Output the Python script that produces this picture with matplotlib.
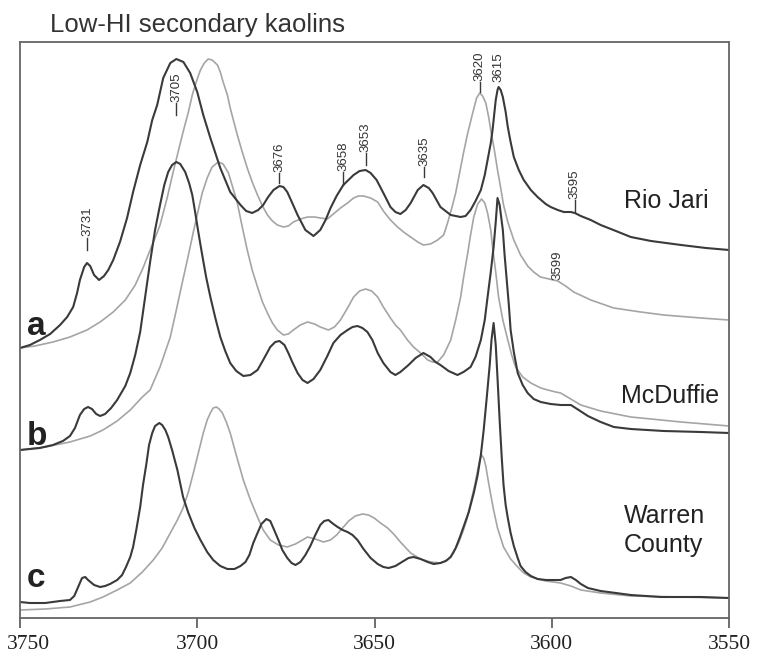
import matplotlib
matplotlib.use("Agg")
import matplotlib.pyplot as plt
from matplotlib.transforms import ScaledTranslation

# OH-stretching region spectra (absorbance, arbitrary offset units)

# a - Rio Jari
wn_a_dark = [3750.0, 3747.2, 3744.4, 3741.5, 3738.7, 3736.7, 3735.0, 3733.9, 3733.1, 3731.9,
             3731.1, 3730.2, 3729.1, 3727.7, 3726.3, 3725.1, 3723.7, 3721.8, 3719.8, 3718.1,
             3716.1, 3714.1, 3712.7, 3711.3, 3709.6, 3707.6, 3705.9, 3703.9, 3702.0, 3700.0,
             3698.3, 3696.3, 3693.5, 3690.7, 3687.8, 3686.2, 3684.5, 3682.8, 3681.4, 3680.0,
             3678.5, 3676.8, 3675.7, 3674.6, 3673.2, 3671.7, 3669.5, 3667.2, 3665.3, 3663.8,
             3662.4, 3660.7, 3658.8, 3655.9, 3654.2, 3652.5, 3651.1, 3649.4, 3647.5, 3645.5,
             3644.1, 3642.7, 3641.2, 3639.8, 3637.8, 3636.2, 3634.7, 3633.6, 3631.4, 3628.5,
             3625.7, 3624.3, 3622.9, 3621.5, 3620.0, 3618.9, 3618.1, 3617.2, 3616.7, 3615.8,
             3615.3, 3615.0, 3614.4, 3613.8, 3613.0, 3612.4, 3611.6, 3610.7, 3609.3, 3607.9,
             3605.9, 3604.0, 3601.7, 3600.3, 3598.3, 3596.6, 3594.6, 3593.5, 3591.8, 3589.0,
             3586.2, 3581.9, 3577.7, 3572.0, 3563.5, 3556.5, 3550.0]
ab_a_dark = [2.70, 2.73, 2.78, 2.84, 2.93, 3.01, 3.11, 3.25, 3.38, 3.51,
             3.55, 3.52, 3.43, 3.38, 3.42, 3.48, 3.58, 3.76, 4.00, 4.26,
             4.53, 4.76, 4.98, 5.13, 5.40, 5.55, 5.59, 5.56, 5.45, 5.26,
             5.03, 4.80, 4.50, 4.26, 4.13, 4.07, 4.05, 4.08, 4.13, 4.21,
             4.28, 4.32, 4.31, 4.26, 4.15, 4.03, 3.88, 3.82, 3.88, 3.98,
             4.10, 4.22, 4.33, 4.43, 4.47, 4.48, 4.45, 4.38, 4.25, 4.11,
             4.06, 4.04, 4.08, 4.15, 4.28, 4.33, 4.30, 4.25, 4.11, 4.03,
             4.01, 4.02, 4.08, 4.17, 4.28, 4.43, 4.58, 4.75, 4.88, 5.18,
             5.28, 5.31, 5.28, 5.21, 5.06, 4.91, 4.76, 4.61, 4.48, 4.38,
             4.28, 4.21, 4.14, 4.11, 4.08, 4.06, 4.06, 4.05, 4.02, 3.98,
             3.93, 3.87, 3.81, 3.77, 3.73, 3.70, 3.68]

wn_a_light = [3750.0, 3745.8, 3740.7, 3735.9, 3731.1, 3727.4, 3723.7, 3720.3, 3717.5, 3715.3,
              3713.3, 3711.9, 3710.5, 3708.5, 3706.8, 3705.4, 3704.0, 3702.5, 3701.4, 3700.3,
              3699.1, 3698.0, 3696.9, 3695.8, 3694.3, 3693.5, 3692.7, 3691.5, 3690.7, 3688.7,
              3687.3, 3685.9, 3684.5, 3683.0, 3681.6, 3680.2, 3678.8, 3677.4, 3675.7, 3674.3,
              3672.9, 3670.9, 3668.9, 3666.9, 3665.3, 3663.3, 3661.6, 3659.6, 3657.6, 3655.9,
              3654.5, 3653.1, 3651.1, 3649.1, 3647.5, 3645.5, 3643.5, 3641.8, 3639.8, 3637.8,
              3636.2, 3634.2, 3632.2, 3630.5, 3629.4, 3628.2, 3627.1, 3626.0, 3624.9, 3623.7,
              3622.3, 3621.2, 3620.3, 3619.5, 3618.6, 3617.8, 3617.2, 3616.1, 3615.3, 3614.4,
              3613.6, 3612.4, 3610.7, 3608.8, 3606.8, 3605.1, 3603.2, 3598.3, 3596.1, 3593.8,
              3589.0, 3582.5, 3574.9, 3568.4, 3557.9, 3550.0]
ab_a_light = [2.70, 2.72, 2.76, 2.81, 2.88, 2.96, 3.06, 3.18, 3.33, 3.50,
              3.68, 3.80, 3.93, 4.20, 4.46, 4.66, 4.86, 5.06, 5.23, 5.36,
              5.48, 5.55, 5.59, 5.58, 5.53, 5.46, 5.36, 5.23, 5.10, 4.83,
              4.66, 4.50, 4.36, 4.23, 4.12, 4.03, 3.97, 3.93, 3.91, 3.92,
              3.96, 3.99, 4.01, 4.01, 4.00, 3.99, 4.04, 4.10, 4.15, 4.20,
              4.22, 4.22, 4.20, 4.16, 4.07, 3.98, 3.91, 3.86, 3.81, 3.76,
              3.73, 3.74, 3.78, 3.83, 3.95, 4.10, 4.25, 4.45, 4.65, 4.85,
              5.05, 5.20, 5.25, 5.22, 5.15, 5.01, 4.88, 4.66, 4.48, 4.30,
              4.13, 3.96, 3.78, 3.63, 3.52, 3.46, 3.41, 3.37, 3.32, 3.26,
              3.18, 3.10, 3.06, 3.03, 3.00, 2.98]

# b - McDuffie
wn_b_dark = [3750.0, 3744.4, 3740.7, 3737.9, 3735.9, 3734.5, 3733.1, 3731.9, 3730.8, 3729.7,
             3728.5, 3727.4, 3726.0, 3724.3, 3722.6, 3720.3, 3718.9, 3717.5, 3716.1, 3714.7,
             3713.3, 3711.9, 3710.5, 3709.3, 3708.2, 3707.1, 3705.9, 3704.8, 3703.4, 3702.3,
             3701.4, 3700.6, 3699.7, 3698.6, 3697.5, 3696.3, 3694.9, 3693.5, 3692.1, 3690.7,
             3689.0, 3687.0, 3685.0, 3683.0, 3681.4, 3679.4, 3678.0, 3676.8, 3675.4, 3674.3,
             3673.2, 3671.7, 3670.3, 3668.9, 3667.2, 3665.3, 3663.3, 3661.6, 3659.6, 3657.6,
             3656.2, 3654.8, 3653.4, 3652.0, 3650.6, 3649.1, 3647.5, 3645.5, 3644.1, 3642.7,
             3640.4, 3638.4, 3636.2, 3634.2, 3632.8, 3631.4, 3629.1, 3626.6, 3624.9, 3622.9,
             3621.5, 3620.0, 3618.9, 3618.1, 3617.2, 3616.4, 3615.8, 3615.3, 3614.7, 3613.8,
             3613.3, 3612.7, 3612.1, 3611.6, 3610.7, 3609.6, 3608.2, 3606.8, 3605.1, 3603.1,
             3600.3, 3597.5, 3596.1, 3594.6, 3592.4, 3589.8, 3586.2, 3582.5, 3577.7, 3568.4,
             3557.9, 3550.0]
ab_b_dark = [1.68, 1.70, 1.73, 1.77, 1.82, 1.90, 2.03, 2.09, 2.11, 2.09,
             2.04, 2.02, 2.04, 2.10, 2.18, 2.32, 2.45, 2.63, 2.86, 3.21,
             3.56, 3.88, 4.13, 4.33, 4.46, 4.53, 4.56, 4.54, 4.46, 4.35,
             4.23, 4.06, 3.86, 3.63, 3.41, 3.21, 3.00, 2.81, 2.67, 2.55,
             2.47, 2.42, 2.43, 2.48, 2.58, 2.71, 2.76, 2.77, 2.73, 2.65,
             2.56, 2.45, 2.38, 2.35, 2.39, 2.48, 2.62, 2.75, 2.83, 2.88,
             2.91, 2.92, 2.90, 2.86, 2.78, 2.65, 2.55, 2.46, 2.43, 2.46,
             2.53, 2.60, 2.65, 2.61, 2.56, 2.53, 2.47, 2.43, 2.46, 2.51,
             2.61, 2.78, 2.98, 3.21, 3.46, 3.71, 3.96, 4.20, 4.13, 3.88,
             3.63, 3.38, 3.13, 2.88, 2.66, 2.45, 2.33, 2.25, 2.19, 2.16,
             2.14, 2.13, 2.13, 2.13, 2.08, 2.02, 1.96, 1.91, 1.89, 1.87,
             1.86, 1.85]

wn_b_light = [3750.0, 3742.9, 3735.9, 3730.2, 3726.6, 3722.6, 3718.9, 3715.5, 3713.3, 3710.5,
              3707.6, 3705.9, 3704.5, 3702.8, 3701.1, 3699.7, 3698.6, 3697.2, 3695.8, 3694.1,
              3692.7, 3691.2, 3690.1, 3688.7, 3687.3, 3685.9, 3684.5, 3683.0, 3681.6, 3680.2,
              3678.8, 3677.4, 3675.7, 3674.3, 3672.9, 3670.9, 3668.9, 3666.9, 3665.3, 3663.0,
              3661.3, 3659.6, 3657.6, 3655.9, 3654.2, 3652.5, 3650.8, 3649.1, 3647.5, 3645.5,
              3644.1, 3642.7, 3640.7, 3639.0, 3637.0, 3635.0, 3633.6, 3632.2, 3630.5, 3628.5,
              3627.1, 3625.7, 3624.9, 3623.7, 3622.9, 3622.0, 3620.9, 3619.8, 3618.9, 3618.1,
              3617.2, 3616.7, 3615.8, 3615.0, 3613.8, 3612.4, 3611.3, 3610.2, 3608.2, 3605.9,
              3603.1, 3601.1, 3598.9, 3597.5, 3595.6, 3591.8, 3586.2, 3577.7, 3563.5, 3550.0]
ab_b_light = [1.68, 1.71, 1.76, 1.82, 1.88, 1.97, 2.08, 2.21, 2.28, 2.51,
              2.81, 3.08, 3.31, 3.58, 3.86, 4.08, 4.25, 4.40, 4.51, 4.56,
              4.54, 4.45, 4.32, 4.15, 3.91, 3.68, 3.48, 3.31, 3.16, 3.05,
              2.95, 2.88, 2.83, 2.84, 2.88, 2.93, 2.96, 2.94, 2.91, 2.88,
              2.91, 2.98, 3.10, 3.21, 3.27, 3.29, 3.27, 3.21, 3.11, 3.00,
              2.93, 2.88, 2.78, 2.71, 2.65, 2.58, 2.56, 2.56, 2.63, 2.78,
              2.98, 3.21, 3.40, 3.65, 3.83, 4.01, 4.14, 4.19, 4.15, 4.05,
              3.88, 3.71, 3.46, 3.21, 2.98, 2.78, 2.63, 2.51, 2.41, 2.35,
              2.30, 2.28, 2.26, 2.25, 2.21, 2.13, 2.07, 2.01, 1.96, 1.92]

# c - Warren County
wn_c_dark = [3750.0, 3747.2, 3742.9, 3738.7, 3735.9, 3734.7, 3733.6, 3732.5, 3731.6, 3730.8,
             3729.1, 3727.4, 3726.0, 3724.6, 3722.6, 3721.2, 3720.1, 3718.9, 3718.1, 3717.2,
             3716.1, 3715.3, 3714.4, 3713.6, 3712.7, 3711.9, 3710.7, 3709.9, 3709.0, 3708.2,
             3707.1, 3705.6, 3704.0, 3702.5, 3700.8, 3699.1, 3697.2, 3695.5, 3693.5, 3691.5,
             3689.5, 3687.8, 3686.4, 3685.3, 3684.2, 3683.0, 3681.9, 3680.5, 3679.4, 3678.3,
             3677.1, 3676.0, 3674.6, 3673.4, 3672.3, 3670.9, 3669.5, 3668.1, 3666.7, 3665.3,
             3664.2, 3663.0, 3661.6, 3660.4, 3659.0, 3657.6, 3656.2, 3654.8, 3653.1, 3651.1,
             3649.1, 3647.5, 3646.0, 3644.1, 3641.8, 3640.4, 3639.0, 3637.0, 3635.0, 3633.3,
             3631.4, 3629.9, 3628.5, 3627.1, 3626.0, 3624.9, 3623.4, 3622.0, 3620.9, 3620.0,
             3619.2, 3618.4, 3617.5, 3617.0, 3616.4, 3615.8, 3615.3, 3614.7, 3614.1, 3613.6,
             3613.0, 3612.4, 3611.6, 3610.7, 3609.6, 3608.8, 3607.4, 3605.9, 3604.0, 3601.7,
             3599.4, 3597.5, 3596.1, 3594.6, 3593.2, 3591.8, 3589.8, 3586.2, 3581.9, 3577.7,
             3569.2, 3557.9, 3550.0]
ab_c_dark = [0.16, 0.15, 0.15, 0.17, 0.18, 0.22, 0.31, 0.40, 0.41, 0.38,
             0.33, 0.31, 0.32, 0.34, 0.38, 0.43, 0.51, 0.61, 0.71, 0.88,
             1.11, 1.33, 1.53, 1.73, 1.85, 1.92, 1.95, 1.93, 1.88, 1.81,
             1.68, 1.48, 1.21, 1.05, 0.90, 0.78, 0.66, 0.58, 0.52, 0.49,
             0.49, 0.52, 0.56, 0.63, 0.75, 0.85, 0.94, 0.99, 0.97, 0.88,
             0.78, 0.68, 0.60, 0.55, 0.53, 0.56, 0.63, 0.72, 0.83, 0.93,
             0.97, 0.98, 0.94, 0.91, 0.88, 0.86, 0.83, 0.78, 0.69, 0.60,
             0.54, 0.51, 0.50, 0.52, 0.57, 0.60, 0.61, 0.59, 0.56, 0.54,
             0.55, 0.57, 0.61, 0.70, 0.80, 0.91, 1.06, 1.25, 1.43, 1.63,
             1.88, 2.18, 2.53, 2.78, 2.95, 2.73, 2.40, 1.98, 1.60, 1.33,
             1.13, 1.00, 0.85, 0.72, 0.60, 0.52, 0.46, 0.42, 0.39, 0.38,
             0.38, 0.38, 0.40, 0.41, 0.38, 0.34, 0.30, 0.27, 0.25, 0.23,
             0.21, 0.21, 0.20]

wn_c_light = [3750.0, 3742.9, 3735.9, 3730.2, 3726.6, 3722.6, 3718.9, 3715.5, 3712.4, 3709.9,
              3707.6, 3705.6, 3704.0, 3702.5, 3701.1, 3699.7, 3698.3, 3697.2, 3696.3, 3695.5,
              3694.6, 3693.8, 3692.9, 3691.8, 3690.7, 3689.0, 3687.0, 3685.0, 3683.0, 3681.4,
              3679.4, 3677.1, 3674.6, 3672.3, 3670.3, 3668.9, 3666.7, 3664.4, 3662.4, 3660.7,
              3659.0, 3657.3, 3655.4, 3653.4, 3651.7, 3650.1, 3648.3, 3646.3, 3644.6, 3642.7,
              3639.8, 3637.0, 3634.2, 3631.4, 3629.4, 3627.7, 3626.3, 3625.1, 3624.0, 3622.9,
              3621.7, 3620.9, 3620.3, 3619.8, 3619.2, 3618.6, 3618.1, 3617.2, 3616.4, 3615.3,
              3613.6, 3611.6, 3609.6, 3607.9, 3605.9, 3601.7, 3597.5, 3594.6, 3591.8, 3586.2,
              3577.7, 3563.5, 3550.0]
ab_c_light = [0.08, 0.09, 0.11, 0.16, 0.21, 0.28, 0.35, 0.46, 0.58, 0.70,
              0.85, 0.98, 1.10, 1.26, 1.45, 1.65, 1.85, 1.98, 2.05, 2.10,
              2.11, 2.09, 2.05, 1.96, 1.85, 1.63, 1.38, 1.18, 1.01, 0.88,
              0.78, 0.73, 0.71, 0.74, 0.78, 0.81, 0.79, 0.76, 0.78, 0.83,
              0.90, 0.97, 1.02, 1.04, 1.03, 1.00, 0.95, 0.90, 0.84, 0.76,
              0.65, 0.59, 0.56, 0.55, 0.58, 0.65, 0.75, 0.86, 0.98, 1.15,
              1.33, 1.48, 1.58, 1.63, 1.60, 1.52, 1.41, 1.23, 1.08, 0.90,
              0.71, 0.59, 0.51, 0.45, 0.41, 0.37, 0.35, 0.32, 0.28, 0.25,
              0.22, 0.21, 0.20]

# band labels: (text, wavenumber, tick line bottom, tick line top, text bottom)
band_labels = [
    ("3731", 3731.1, 3.68, 3.80, 3.82),
    ("3705", 3705.9, 5.03, 5.15, 5.16),
    ("3676", 3676.8, 4.35, 4.45, 4.46),
    ("3658", 3658.8, 4.33, 4.46, 4.47),
    ("3653", 3652.5, 4.53, 4.65, 4.66),
    ("3635", 3635.9, 4.41, 4.51, 4.52),
    ("3620", 3620.3, 5.26, 5.36, 5.37),
    ("3615", 3615.0, None, None, 5.36),
    ("3595", 3593.5, 4.06, 4.18, 4.19),
    ("3599", 3598.3, None, None, 3.38),
]

dark = "#3a3a3a"
light = "#a5a5a5"
sans = "Liberation Sans"

fig = plt.figure(figsize=(7.66, 6.55), dpi=100)
ax = fig.add_axes([20 / 766, 37 / 655, 709 / 766, 576 / 655])

for wn, ab in [(wn_a_light, ab_a_light), (wn_b_light, ab_b_light), (wn_c_light, ab_c_light)]:
    ax.plot(wn, ab, color=light, lw=1.2, solid_joinstyle="round")
for wn, ab in [(wn_a_dark, ab_a_dark), (wn_b_dark, ab_b_dark), (wn_c_dark, ab_c_dark)]:
    ax.plot(wn, ab, color=dark, lw=1.5, solid_joinstyle="round")

for txt, w, lo, hi, tb in band_labels:
    if lo is not None:
        ax.plot([w, w], [lo, hi], color=dark, lw=1.0)
    ax.text(w, tb, txt, rotation=90, ha="center", va="bottom",
            fontsize=9.5, family=sans, color="#333333")

# sample names and panel letters
ax.text(3579.7, 4.10, "Rio Jari", fontsize=18, family=sans, color="#222222")
ax.text(3580.5, 2.15, "McDuffie", fontsize=18, family=sans, color="#222222")
ax.text(3579.7, 0.95, "Warren", fontsize=18, family=sans, color="#222222")
ax.text(3579.7, 0.66, "County", fontsize=18, family=sans, color="#222222")
for letter, base in [("a", 2.83), ("b", 1.73), ("c", 0.31)]:
    ax.text(3748.0, base, letter, fontsize=24, fontweight="bold", family=sans, color="#222222")

ax.set_xlim(3750, 3550)
ax.set_ylim(0, 5.76)
ax.set_xticks([3750, 3700, 3650, 3600, 3550])
ax.set_yticks([])
ax.tick_params(axis="x", direction="out", length=7, width=1.2, color="#555555",
               labelsize=15.5, pad=5, labelcolor="#222222")
for lab in ax.get_xticklabels():
    lab.set_family("Liberation Serif")
# first label sits fully inside the figure, as in the original
first = ax.get_xticklabels()[0]
first.set_transform(first.get_transform() + ScaledTranslation(0.08, 0, fig.dpi_scale_trans))
for sp in ax.spines.values():
    sp.set_color("#666666")
    sp.set_linewidth(1.3)

fig.text(50 / 766, 1 - 32 / 655, "Low-HI secondary kaolins", fontsize=18.5,
         family=sans, color="#333333", va="baseline")

fig.savefig("out.png", dpi=100)
